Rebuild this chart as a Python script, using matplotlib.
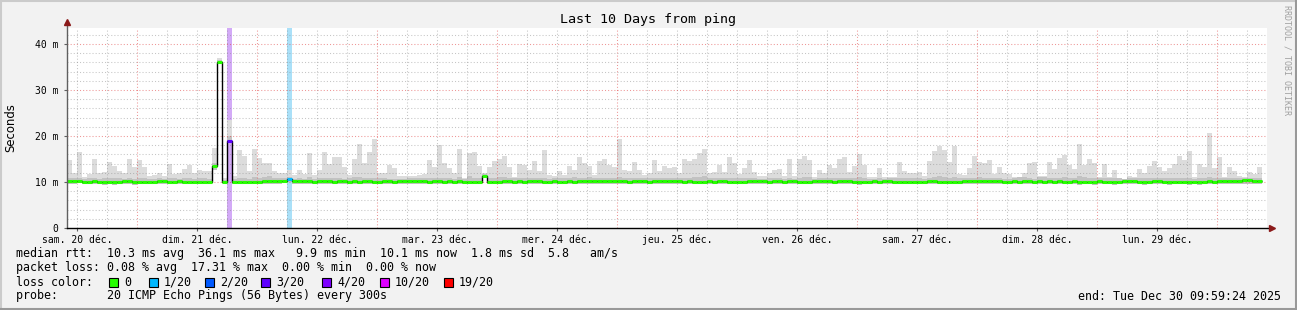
import matplotlib.pyplot as plt
import numpy as np
from matplotlib.patches import Rectangle
from matplotlib.lines import Line2D

# ---- data (ms), one bin per hour starting Sat 20 Dec 09:59:24 ----
rtt_max = [
    14.8, 11.9, 16.5, 11.2, 11.7, 15.0, 12.0, 12.2, 14.3, 13.5,
    12.5, 11.9, 15.1, 13.3, 14.8, 13.2, 11.3, 11.6, 12.0, 11.4,
    13.9, 11.7, 12.0, 12.8, 13.6, 11.9, 12.6, 12.5, 12.5, 17.3,
    36.9, 10.8, 23.5, 11.3, 17.0, 15.7, 12.4, 17.2, 15.3, 14.1,
    14.1, 12.4, 11.9, 11.9, 12.6, 11.5, 12.6, 11.7, 16.4, 11.5,
    12.6, 16.6, 13.9, 15.4, 15.4, 13.3, 11.5, 14.9, 18.3, 14.1,
    16.6, 19.3, 12.0, 11.9, 13.7, 13.0, 11.3, 11.3, 11.3, 11.4,
    11.5, 11.8, 14.8, 13.2, 18.0, 14.2, 13.0, 11.9, 17.2, 10.8,
    16.4, 16.5, 13.5, 11.9, 13.3, 14.6, 14.9, 15.7, 13.3, 11.2,
    13.9, 13.7, 12.6, 14.6, 12.5, 17.0, 11.5, 11.3, 12.5, 11.5,
    13.5, 12.6, 15.4, 14.2, 13.5, 11.5, 14.6, 15.0, 13.7, 13.3,
    19.3, 12.6, 12.5, 14.3, 12.6, 11.5, 12.0, 14.8, 12.5, 13.5,
    13.0, 13.3, 12.0, 15.1, 14.6, 15.0, 16.4, 17.2, 11.9, 12.2,
    13.7, 12.2, 15.4, 14.2, 11.7, 13.0, 14.8, 12.2, 11.3, 11.3,
    12.0, 12.6, 12.9, 11.4, 15.1, 11.3, 14.9, 15.7, 14.8, 11.0,
    12.6, 12.0, 13.7, 13.1, 15.1, 15.4, 12.2, 13.5, 16.1, 13.7,
    11.2, 11.0, 13.0, 11.2, 11.0, 11.2, 14.3, 12.5, 11.9, 11.9,
    12.2, 11.3, 14.6, 16.7, 17.8, 17.0, 14.3, 17.9, 11.7, 11.5,
    13.0, 15.7, 14.3, 14.1, 14.8, 11.7, 13.3, 12.0, 11.7, 11.0,
    11.0, 12.0, 14.2, 14.3, 11.3, 11.3, 14.3, 12.9, 15.2, 15.9,
    13.7, 12.8, 18.3, 13.7, 14.9, 14.2, 11.0, 13.9, 11.0, 12.6,
    10.6, 10.6, 11.4, 11.2, 12.8, 11.9, 13.5, 14.6, 13.3, 12.5,
    13.0, 13.9, 15.7, 14.8, 16.7, 11.0, 13.9, 13.3, 20.7, 13.0,
    15.4, 11.0, 13.3, 12.4, 11.3, 11.0, 12.2, 11.7, 13.3,
]

rtt_upper = [
    10.9, 10.8, 10.8, 10.7, 10.8, 10.9, 10.7, 10.8, 10.8, 10.9, 10.8, 10.7, 10.8, 10.7, 10.9, 10.8, 10.7, 10.7, 10.8, 10.7, 10.9, 10.8, 10.7, 10.8,
    10.8, 10.7, 10.8, 10.8, 10.7, 14.2, 36.6, 10.5, 20.0, 10.6, 10.9, 10.8, 10.7, 11.0, 10.9, 11.1, 11.4, 10.9, 10.8, 10.8, 11.2, 10.7, 10.8, 10.7,
    11.0, 10.7, 10.9, 10.9, 10.8, 10.8, 10.9, 10.7, 10.8, 11.0, 11.1, 10.8, 10.9, 10.8, 10.8, 10.9, 10.7, 10.7, 10.7, 10.7, 10.8, 10.8, 10.9, 10.8,
    10.9, 10.8, 10.9, 10.8, 10.9, 10.7, 11.0, 10.7, 11.3, 10.8, 10.9, 11.7, 10.9, 10.9, 11.0, 11.1, 10.9, 10.8, 10.9, 10.8, 10.8, 10.9, 10.9, 10.8,
    10.7, 10.8, 10.9, 10.8, 10.8, 11.0, 10.9, 10.9, 11.1, 10.8, 10.9, 10.8, 10.9, 10.8, 11.0, 10.8, 10.9, 10.9, 10.8, 10.8, 10.9, 10.9, 10.9, 10.9,
    10.8, 10.9, 10.8, 10.9, 10.8, 11.0, 11.2, 11.3, 10.9, 10.8, 10.9, 10.8, 10.9, 10.8, 10.8, 10.9, 10.8, 10.8, 10.7, 10.7, 10.8, 10.9, 10.9, 10.7,
    10.9, 10.7, 10.9, 11.0, 11.2, 10.7, 10.9, 10.8, 10.9, 10.9, 10.9, 10.8, 10.9, 10.8, 11.1, 10.9, 10.7, 10.7, 10.8, 10.7, 10.8, 10.8, 10.9, 10.8,
    10.8, 10.8, 10.8, 10.7, 10.9, 11.1, 11.3, 11.0, 10.8, 11.0, 10.8, 10.8, 10.9, 10.9, 11.0, 10.9, 10.8, 10.9, 10.8, 10.7, 10.7, 10.9, 11.0, 11.0,
    10.8, 10.7, 11.0, 11.0, 10.9, 10.8, 10.9, 11.0, 10.8, 10.9, 11.4, 11.1, 10.9, 10.9, 10.8, 10.8, 10.9, 10.8, 10.8, 10.7, 10.8, 10.8, 10.9, 10.8,
    10.9, 10.8, 10.8, 10.9, 10.8, 10.9, 10.9, 10.8, 10.9, 10.7, 10.8, 10.9, 11.2, 10.8, 10.8, 10.9, 10.8, 10.8, 10.8, 10.9, 10.8, 10.8, 10.9,
]

rtt_min = [
    9.6, 9.6, 9.7, 9.6, 9.5, 9.5, 9.6, 9.4, 9.5, 9.4, 9.5, 9.6, 9.5, 9.4, 9.5, 9.6, 9.5, 9.6, 9.6, 9.6, 9.5, 9.6, 9.6, 9.6,
    9.5, 9.6, 9.6, 9.5, 9.5, 12.6, 35.6, 9.7, 18.6, 9.5, 9.6, 9.5, 9.6, 9.5, 9.6, 9.6, 9.5, 9.6, 9.6, 9.7, 9.9, 9.6, 9.5, 9.6,
    9.6, 9.6, 9.6, 9.5, 9.6, 9.6, 9.5, 9.6, 9.5, 9.6, 9.5, 9.6, 9.6, 9.5, 9.5, 9.6, 9.6, 9.5, 9.6, 9.6, 9.6, 9.5, 9.5, 9.6,
    9.5, 9.6, 9.6, 9.5, 9.6, 9.6, 9.5, 9.5, 9.5, 9.5, 9.6, 10.9, 9.5, 9.6, 9.5, 9.6, 9.5, 9.6, 9.6, 9.5, 9.5, 9.5, 9.6, 9.5,
    9.6, 9.6, 9.5, 9.6, 9.5, 9.5, 9.6, 9.6, 9.5, 9.6, 9.6, 9.5, 9.6, 9.5, 9.6, 9.6, 9.5, 9.6, 9.6, 9.6, 9.5, 9.6, 9.6, 9.6,
    9.6, 9.6, 9.5, 9.5, 9.5, 9.6, 9.6, 9.5, 9.6, 9.6, 9.5, 9.6, 9.5, 9.6, 9.6, 9.5, 9.6, 9.6, 9.6, 9.6, 9.6, 9.5, 9.6, 9.6,
    9.5, 9.6, 9.6, 9.5, 9.6, 9.5, 9.6, 9.6, 9.5, 9.6, 9.5, 9.6, 9.5, 9.6, 9.4, 9.6, 9.5, 9.6, 9.5, 9.6, 9.6, 9.5, 9.5, 9.5,
    9.6, 9.5, 9.6, 9.6, 9.5, 9.5, 9.6, 9.6, 9.5, 9.5, 9.6, 9.5, 9.6, 9.6, 9.5, 9.6, 9.6, 9.6, 9.5, 9.5, 9.6, 9.5, 9.6, 9.6,
    9.6, 9.5, 9.6, 9.6, 9.5, 9.6, 9.5, 9.6, 9.6, 9.5, 9.4, 9.5, 9.6, 9.4, 9.6, 9.6, 9.5, 9.4, 9.5, 9.6, 9.5, 9.6, 9.5, 9.4,
    9.5, 9.6, 9.5, 9.5, 9.4, 9.5, 9.5, 9.6, 9.4, 9.5, 9.4, 9.5, 9.6, 9.5, 9.6, 9.6, 9.5, 9.5, 9.6, 9.6, 9.6, 9.5, 9.5,
]

rtt_median = [
    10.3, 10.2, 10.2, 10.1, 10.1, 10.2, 10.1, 10.0, 10.1, 10.1, 10.1, 10.2, 10.2, 10.1, 10.1, 10.1, 10.0, 10.1, 10.2, 10.2, 10.1, 10.1, 10.2, 10.1,
    10.1, 10.1, 10.1, 10.1, 10.1, 13.4, 36.1, 10.0, 19.0, 9.9, 10.0, 10.0, 10.1, 10.1, 10.1, 10.2, 10.2, 10.2, 10.2, 10.2, 10.7, 10.2, 10.2, 10.2,
    10.2, 10.1, 10.2, 10.2, 10.2, 10.1, 10.2, 10.2, 10.1, 10.2, 10.1, 10.2, 10.2, 10.1, 10.1, 10.2, 10.2, 10.1, 10.3, 10.3, 10.3, 10.2, 10.2, 10.2,
    10.1, 10.2, 10.2, 10.1, 10.2, 10.1, 10.2, 10.1, 10.1, 10.1, 10.1, 11.3, 10.1, 10.1, 10.1, 10.2, 10.2, 10.1, 10.2, 10.1, 10.2, 10.2, 10.2, 10.1,
    10.1, 10.2, 10.1, 10.1, 10.2, 10.1, 10.2, 10.2, 10.2, 10.2, 10.3, 10.2, 10.3, 10.2, 10.2, 10.2, 10.1, 10.2, 10.2, 10.2, 10.1, 10.2, 10.2, 10.2,
    10.3, 10.2, 10.2, 10.1, 10.2, 10.1, 10.1, 10.1, 10.2, 10.1, 10.2, 10.2, 10.1, 10.1, 10.1, 10.1, 10.2, 10.2, 10.2, 10.2, 10.1, 10.2, 10.2, 10.1,
    10.2, 10.2, 10.1, 10.1, 10.1, 10.2, 10.2, 10.2, 10.2, 10.1, 10.2, 10.2, 10.2, 10.1, 10.0, 10.1, 10.1, 10.2, 10.1, 10.2, 10.2, 10.1, 10.0, 10.0,
    10.1, 10.1, 10.1, 10.1, 10.2, 10.2, 10.1, 10.1, 10.0, 10.0, 10.1, 10.2, 10.3, 10.2, 10.2, 10.2, 10.2, 10.2, 10.2, 10.1, 10.1, 10.2, 10.1, 10.2,
    10.2, 10.1, 10.2, 10.1, 10.2, 10.1, 10.2, 10.1, 10.1, 10.2, 10.1, 10.1, 10.1, 10.1, 10.2, 10.1, 10.0, 10.1, 10.1, 10.2, 10.2, 10.2, 10.1, 10.0,
    10.1, 10.2, 10.2, 10.1, 10.1, 10.0, 10.0, 10.1, 10.0, 10.1, 10.1, 10.1, 10.2, 10.1, 10.2, 10.2, 10.3, 10.3, 10.2, 10.4, 10.4, 10.3, 10.2,
]

# bins that had packet loss, and how many of 20 pings were lost
loss_bins = [32, 44]
loss_count = [3, 1]

loss_levels = [0, 1, 2, 3, 4, 10, 19]
loss_labels = ['0', '1/20', '2/20', '3/20', '4/20', '10/20', '19/20']
loss_colors = ['#26ff00', '#00b8ff', '#0059ff', '#5e00ff', '#7e00ff', '#dd00ff', '#ff0000']
loss_light = {1: '#aae0f8', 3: '#d3aaf7'}

day_labels = ['sam. 20 déc.', 'dim. 21 déc.', 'lun. 22 déc.', 'mar. 23 déc.', 'mer. 24 déc.',
              'jeu. 25 déc.', 'ven. 26 déc.', 'sam. 27 déc.', 'dim. 28 déc.', 'lun. 29 déc.']

stats_line1 = 'median rtt:  10.3 ms avg  36.1 ms max   9.9 ms min  10.1 ms now  1.8 ms sd  5.8   am/s'
stats_line2 = 'packet loss: 0.08 % avg  17.31 % max  0.00 % min  0.00 % now'
probe_line = 'probe:       20 ICMP Echo Pings (56 Bytes) every 300s'
end_line = 'end: Tue Dec 30 09:59:24 2025'

assert len(rtt_max) == len(rtt_min) == len(rtt_median) == len(rtt_upper)

W, H = 1297, 310
MONO = 'DejaVu Sans Mono'

def fx(x):
    return x / W

def fy(y):
    return 1 - y / H

fig = plt.figure(figsize=(W / 100, H / 100), dpi=100, facecolor='#f2f2f2')
ax = fig.add_axes([fx(67), fy(228), 1200 / W, 200 / H])
ax.set_facecolor('white')

n = len(rtt_max)
edges = np.arange(n + 1)
med = np.array(rtt_median)

# loss background bars
for b, c in zip(loss_bins, loss_count):
    ax.axvspan(b, b + 1, color=loss_light[c], lw=0, zorder=1)

# smoke
ax.stairs(rtt_max, edges, baseline=rtt_min, fill=True, color='#dcdcdc', lw=0, zorder=2)
ax.stairs(rtt_upper, edges, baseline=rtt_min, fill=True, color='#c2c2c2', lw=0, zorder=2.1)

# grid
first_midnight = 14 + 0.6 / 60
for h in np.arange(first_midnight - 12, 240, 6):
    major = abs((h - first_midnight) % 24) < 1e-6
    ax.axvline(h, color='#e04040' if major else '#8c8c8c', alpha=0.55 if major else 0.5,
               lw=0.75, ls=(0, (1, 2)), zorder=2.5)
for v in range(2, 44, 2):
    major = v % 10 == 0
    ax.axhline(v, color='#e04040' if major else '#8c8c8c', alpha=0.55 if major else 0.5,
               lw=0.75, ls=(0, (1, 2)), zorder=2.5)

# median line: black step + loss coloured segments
ax.stairs(med, edges, baseline=None, color='black', lw=1.0, zorder=3)
seg_colors = []
for i in range(n):
    c = 0
    if i in loss_bins:
        c = loss_count[loss_bins.index(i)]
    seg_colors.append(loss_colors[loss_levels.index(c)])
ax.hlines(med, edges[:-1], edges[1:], colors=seg_colors, lw=2.2, zorder=4)

ax.set_xlim(0, 240)
ax.set_ylim(0, 43.5)
for s in ax.spines.values():
    s.set_visible(False)

# axes with arrows
ax.plot([0, 0], [0, 1.03], color='#606060', lw=1, transform=ax.transAxes, clip_on=False, zorder=5)
ax.plot([0, 1.004], [0, 0], color='black', lw=1, transform=ax.transAxes, clip_on=False, zorder=5)
ax.plot([0], [1.03], marker='^', ms=4.5, color='#8b1a1a', transform=ax.transAxes, clip_on=False, zorder=6)
ax.plot([1.004], [0], marker='>', ms=4.5, color='#8b1a1a', transform=ax.transAxes, clip_on=False, zorder=6)

ax.set_yticks([0, 10, 20, 30, 40])
ax.set_yticklabels(['0', '10 m', '20 m', '30 m', '40 m'], fontfamily=MONO, fontsize=7)
ax.set_xticks(first_midnight - 12 + 24 * np.arange(len(day_labels)))
ax.set_xticklabels(day_labels, fontfamily=MONO, fontsize=7)
ax.tick_params(axis='y', length=2, pad=4, color='#606060')
ax.tick_params(axis='x', length=2, pad=3, color='#606060')

# titles
fig.text(fx(648), fy(19), 'Last 10 Days from ping', ha='center', va='center', fontfamily=MONO, fontsize=9.6)
fig.text(fx(11), fy(128), 'Seconds', rotation=90, ha='center', va='center', fontfamily='DejaVu Sans', fontsize=8.4)
fig.text(fx(1287), fy(60), 'RRDTOOL / TOBI OETIKER', rotation=270, ha='center', va='center',
         fontfamily=MONO, fontsize=6, color='#a0a0a0')

# legend block
fig.text(fx(16), fy(254), stats_line1, ha='left', va='center', fontfamily=MONO, fontsize=8.4)
fig.text(fx(16), fy(268), stats_line2, ha='left', va='center', fontfamily=MONO, fontsize=8.4)
fig.text(fx(16), fy(282), 'loss color:', ha='left', va='center', fontfamily=MONO, fontsize=8.4)
sq_x = [109, 149, 205, 261, 322, 380, 444]
for x0, col, lab in zip(sq_x, loss_colors, loss_labels):
    fig.patches.append(Rectangle((fx(x0), fy(287)), 9 / W, 9 / H, transform=fig.transFigure,
                                 facecolor=col, edgecolor='black', lw=0.8))
    fig.text(fx(x0 + 15), fy(282), lab, ha='left', va='center', fontfamily=MONO, fontsize=8.4)
fig.text(fx(16), fy(296), probe_line, ha='left', va='center', fontfamily=MONO, fontsize=8.4)
fig.text(fx(1281), fy(296), end_line, ha='right', va='center', fontfamily=MONO, fontsize=8.4)

# frame
fig.add_artist(Line2D([fx(1), fx(1)], [0, 1], color='#cbcbcb', lw=1.5, transform=fig.transFigure))
fig.add_artist(Line2D([0, 1], [fy(1), fy(1)], color='#cbcbcb', lw=1.5, transform=fig.transFigure))
fig.add_artist(Line2D([fx(1296), fx(1296)], [0, 1], color='#999999', lw=1.5, transform=fig.transFigure))
fig.add_artist(Line2D([0, 1], [fy(309), fy(309)], color='#999999', lw=1.5, transform=fig.transFigure))

fig.savefig('out.png', dpi=100, facecolor=fig.get_facecolor())
